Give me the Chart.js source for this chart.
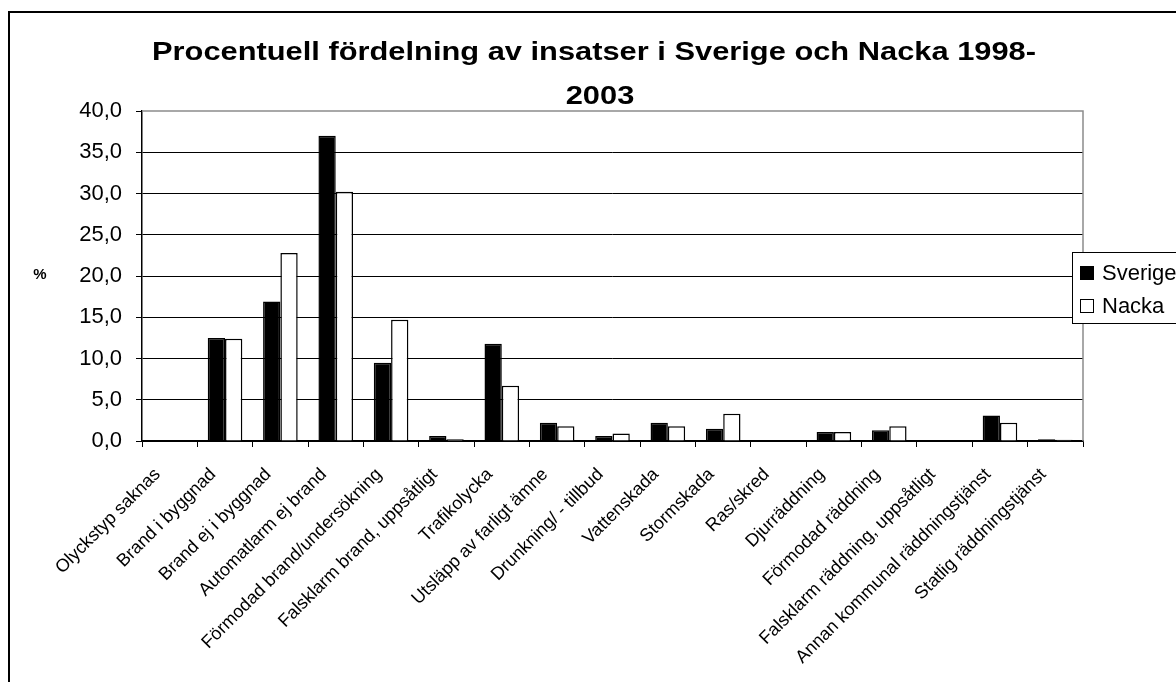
<!DOCTYPE html>
<html>
<head>
<meta charset="utf-8">
<script src="https://cdn.jsdelivr.net/npm/chart.js@4"></script>
<style>
  html, body { margin: 0; padding: 0; background: #fff; }
  #wrap { width: 1176px; height: 682px; position: relative; }
</style>
</head>
<body>
<div id="wrap"><canvas id="chart" width="1176" height="682"></canvas></div>
<script>
// Data
const categories = [
    'Olyckstyp saknas', 'Brand i byggnad', 'Brand ej i byggnad', 'Automatlarm ej brand',
    'Förmodad brand/undersökning', 'Falsklarm brand, uppsåtligt', 'Trafikolycka',
    'Utsläpp av farligt ämne', 'Drunkning/ - tillbud', 'Vattenskada', 'Stormskada',
    'Ras/skred', 'Djurräddning', 'Förmodad räddning', 'Falsklarm räddning, uppsåtligt',
    'Annan kommunal räddningstjänst', 'Statlig räddningstjänst'
];
const sverige = [0, 12.5, 16.9, 37.0, 9.5, 0.6, 11.8, 2.2, 0.6, 2.2, 1.5, 0, 1.1, 1.3, 0, 3.1, 0.2];
const nacka = [0, 12.4, 22.8, 30.2, 14.7, 0.2, 6.7, 1.8, 0.9, 1.8, 3.3, 0, 1.1, 1.8, 0, 2.2, 0.15];
const seriesNames = ['Sverige', 'Nacka'];
const titleLines = ['Procentuell fördelning av insatser i Sverige och Nacka 1998-', '2003'];
const yLabel = '%';
const yMin = 0, yMax = 40, yStep = 5;

const FONT = "'Liberation Sans', Arial, sans-serif";

// Frame, title, axis label, plot border and legend drawn by hand
const decorPlugin = {
    id: 'decor',
    afterDraw(chart) {
        const ctx = chart.ctx;
        const area = chart.chartArea;
        ctx.save();

        // outer frame (runs off the right/bottom edge like the source)
        ctx.strokeStyle = '#000';
        ctx.lineWidth = 2;
        ctx.strokeRect(9, 12, 1300, 800);

        // plot border top/right in grey
        ctx.strokeStyle = '#8c8c8c';
        ctx.lineWidth = 1.5;
        ctx.beginPath();
        ctx.moveTo(area.left, area.top);
        ctx.lineTo(area.right, area.top);
        ctx.lineTo(area.right, area.bottom);
        ctx.stroke();

        // title - the source text is a little stretched sideways
        ctx.fillStyle = '#000';
        ctx.font = 'bold 26px ' + FONT;
        ctx.textAlign = 'left';
        ctx.textBaseline = 'alphabetic';
        const w1 = ctx.measureText(titleLines[0]).width;
        const sx = 884 / w1;
        ctx.save();
        ctx.translate(152, 60);
        ctx.scale(sx, 1);
        ctx.fillText(titleLines[0], 0, 0);
        ctx.restore();
        const w2 = ctx.measureText(titleLines[1]).width * sx;
        ctx.save();
        ctx.translate(600 - w2 / 2, 103.5);
        ctx.scale(sx, 1);
        ctx.fillText(titleLines[1], 0, 0);
        ctx.restore();

        // y axis label
        ctx.textAlign = 'center';
        ctx.textBaseline = 'middle';
        ctx.font = 'bold 15px ' + FONT;
        ctx.fillText(yLabel, 40, 275);

        // legend
        const lx = 1072, ly = 252, lw = 140, lh = 71;
        ctx.fillStyle = '#fff';
        ctx.fillRect(lx, ly, lw, lh);
        ctx.strokeStyle = '#000';
        ctx.lineWidth = 1;
        ctx.strokeRect(lx + 0.5, ly + 0.5, lw, lh);
        ctx.font = '22px ' + FONT;
        ctx.textAlign = 'left';
        chart.data.datasets.forEach((ds, i) => {
            const y = 273 + i * 33;
            ctx.fillStyle = ds.backgroundColor;
            ctx.fillRect(1080, y - 7, 14, 14);
            ctx.strokeStyle = '#000';
            ctx.lineWidth = 1;
            ctx.strokeRect(1080.5, y - 6.5, 13, 13);
            ctx.fillStyle = '#000';
            ctx.fillText(ds.label, 1102, y + 1);
        });
        ctx.restore();
    }
};

new Chart(document.getElementById('chart'), {
    type: 'bar',
    data: {
        labels: categories,
        datasets: [
            {
                label: seriesNames[0],
                data: sverige,
                backgroundColor: '#000000',
                borderColor: '#000000',
                borderWidth: 1.5,
                categoryPercentage: 0.625,
                barPercentage: 1.0
            },
            {
                label: seriesNames[1],
                data: nacka,
                backgroundColor: '#ffffff',
                borderColor: '#000000',
                borderWidth: 1.5,
                categoryPercentage: 0.625,
                barPercentage: 1.0
            }
        ]
    },
    options: {
        responsive: false,
        animation: false,
        layout: { padding: { left: 0, top: 111, right: 93, bottom: 0 } },
        plugins: {
            legend: { display: false },
            title: { display: false },
            tooltip: { enabled: false }
        },
        scales: {
            x: {
                afterFit: (scale) => { scale.height = 241; },
                grid: {
                    offset: true,
                    drawOnChartArea: false,
                    drawTicks: true,
                    tickLength: 6,
                    color: '#000',
                    lineWidth: 1
                },
                border: { display: true, color: '#000', width: 1.5 },
                ticks: {
                    color: '#000',
                    font: { family: FONT, size: 18 },
                    minRotation: 45,
                    maxRotation: 45,
                    autoSkip: false,
                    padding: 17,
                    labelOffset: -12
                }
            },
            y: {
                min: yMin,
                max: yMax,
                afterFit: (scale) => { scale.width = 142; },
                grid: {
                    color: (c) => (c.tick && c.tick.value === yMax ? 'rgba(0,0,0,0)' : '#000'),
                    lineWidth: 1,
                    drawTicks: true,
                    tickLength: 6,
                    tickColor: '#000'
                },
                border: { display: true, color: '#000', width: 1.5 },
                ticks: {
                    stepSize: yStep,
                    color: '#000',
                    padding: 14,
                    font: { family: FONT, size: 22 },
                    callback: (v) => v.toFixed(1).replace('.', ',')
                }
            }
        }
    },
    plugins: [decorPlugin]
});
</script>
</body>
</html>
